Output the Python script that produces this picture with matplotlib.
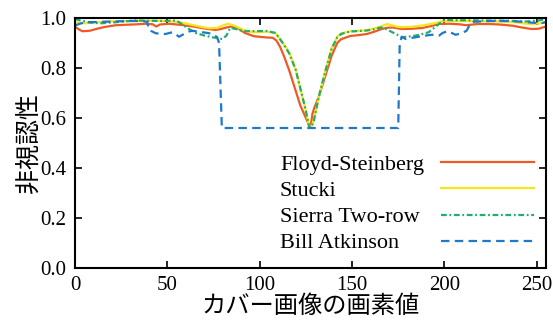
import matplotlib
matplotlib.use("Agg")
import matplotlib.pyplot as plt
from matplotlib.ticker import FormatStrFormatter

plt.rcParams["font.family"] = ["Liberation Serif", "Noto Sans CJK JP"]

# Floyd-Steinberg
fs_x = [0, 2, 4, 8, 12, 16, 22, 28, 34, 38, 42, 44, 46, 51, 58, 65, 70, 73, 76, 79,
        82, 85, 88, 92, 97, 104, 107, 109, 111, 113, 116, 119, 122, 125, 127.5, 128.5,
        129.5, 132, 136, 139, 142, 144, 149, 154, 158, 162, 166, 169, 172, 177, 182,
        188, 193, 197, 203, 208, 212, 218, 224, 230, 237, 242, 247, 251, 255]
fs_y = [0.965, 0.955, 0.947, 0.949, 0.957, 0.964, 0.971, 0.973, 0.975, 0.977, 0.975,
        0.966, 0.974, 0.977, 0.972, 0.965, 0.958, 0.955, 0.952, 0.956, 0.962, 0.966,
        0.960, 0.940, 0.927, 0.922, 0.921, 0.910, 0.885, 0.850, 0.790, 0.720, 0.650,
        0.600, 0.560, 0.615, 0.640, 0.685, 0.780, 0.850, 0.900, 0.915, 0.928, 0.932,
        0.936, 0.945, 0.956, 0.961, 0.962, 0.956, 0.957, 0.960, 0.968, 0.976, 0.977,
        0.975, 0.971, 0.976, 0.976, 0.974, 0.969, 0.962, 0.956, 0.957, 0.966]

# Stucki
st_x = [0, 3, 6, 10, 15, 20, 30, 40, 50, 56, 60, 65, 70, 73, 77, 80, 83, 86, 89, 92,
        97, 104, 108.6, 110, 112, 114, 116, 119.5, 122.2, 124.9, 126.7, 127.5, 128.5,
        129.4, 132, 135.7, 139, 142, 144, 149, 154, 158, 162, 165.5, 169, 171, 174,
        177, 182, 188, 194, 199, 210, 220, 230, 238, 243, 247, 251, 255]
st_y = [0.983, 0.980, 0.979, 0.982, 0.985, 0.987, 0.988, 0.989, 0.988, 0.984, 0.978,
        0.970, 0.962, 0.959, 0.960, 0.970, 0.977, 0.970, 0.960, 0.950, 0.943, 0.945,
        0.940, 0.925, 0.905, 0.885, 0.860, 0.795, 0.712, 0.632, 0.570, 0.560, 0.575,
        0.595, 0.685, 0.792, 0.880, 0.925, 0.938, 0.947, 0.949, 0.951, 0.958, 0.966,
        0.976, 0.972, 0.966, 0.963, 0.965, 0.970, 0.978, 0.987, 0.988, 0.987, 0.986,
        0.983, 0.978, 0.976, 0.978, 0.982]

# Sierra Two-row
sr_x = [0, 3, 7.6, 11, 14.8, 18, 22, 28, 33, 40, 47.5, 54.7, 57, 60, 63, 65.3, 70,
        74.3, 79.8, 82, 84, 86, 90, 93, 104, 108.6, 110, 112, 114, 116, 119.5, 122.2,
        124.9, 126.7, 127.5, 128.5, 129.4, 132, 135.7, 139, 142, 144, 149, 154, 158,
        162, 165.5, 168, 171, 174, 177, 181, 184.6, 188, 191.5, 194, 197, 200, 210,
        220, 234, 240, 244, 248, 251, 255]
sr_y = [0.996, 0.990, 0.983, 0.980, 0.979, 0.981, 0.983, 0.987, 0.990, 0.989, 0.988,
        0.990, 0.980, 0.964, 0.950, 0.940, 0.930, 0.923, 0.916, 0.930, 0.960, 0.958,
        0.950, 0.947, 0.948, 0.940, 0.925, 0.905, 0.882, 0.858, 0.792, 0.712, 0.632,
        0.566, 0.560, 0.574, 0.592, 0.685, 0.792, 0.878, 0.922, 0.936, 0.946, 0.948,
        0.950, 0.955, 0.962, 0.958, 0.946, 0.935, 0.923, 0.926, 0.930, 0.936, 0.943,
        0.958, 0.976, 0.992, 0.991, 0.990, 0.989, 0.987, 0.986, 0.988, 0.990, 0.996]

# Bill Atkinson
ba_x = [0, 3, 6, 12, 20, 30, 36, 39, 40, 41, 43.7, 46, 49, 52.7, 54.5, 56.3, 58, 59,
        61, 63.5, 66, 69, 72, 74.3, 77, 78, 79.5, 175, 175.8, 177, 179, 182, 186, 190,
        193.3, 197, 199, 201.5, 204, 206, 209, 212, 214, 216, 225, 235, 240, 244, 248,
        253, 255]
ba_y = [0.970, 0.978, 0.983, 0.984, 0.986, 0.988, 0.988, 0.985, 0.955, 0.949, 0.939,
        0.937, 0.936, 0.943, 0.935, 0.925, 0.932, 0.936, 0.945, 0.949, 0.946, 0.943,
        0.940, 0.936, 0.923, 0.900, 0.560, 0.560, 0.900, 0.925, 0.916, 0.920, 0.925,
        0.930, 0.933, 0.929, 0.940, 0.947, 0.940, 0.933, 0.938, 0.949, 0.976, 0.985,
        0.988, 0.988, 0.986, 0.984, 0.981, 0.980, 0.984]

labels = ["Floyd-Steinberg", "Stucki", "Sierra Two-row", "Bill Atkinson"]

fig = plt.figure(figsize=(5.53, 3.23), dpi=100)
ax = fig.add_axes([75 / 553, 1 - 268 / 323, 471 / 553, 250 / 323])

lw = 1.6
h1, = ax.plot(fs_x, fs_y, color="#ee5a24", lw=lw)
h2, = ax.plot(st_x, st_y, color="#f7e51b", lw=lw)
h3, = ax.plot(sr_x, sr_y, color="#1fae6e", lw=lw, linestyle=(0, (2.6, 1.2, 0.8, 1.2)))
h4, = ax.plot(ba_x, ba_y, color="#1f78c8", lw=lw, linestyle=(0, (3.8, 2.4)))
handles = [h1, h2, h3, h4]

ax.set_xlim(0, 255)
ax.set_ylim(0, 1.0)
ax.set_xticks([0, 50, 100, 150, 200, 250])
ax.set_yticks([0.0, 0.2, 0.4, 0.6, 0.8, 1.0])
ax.yaxis.set_major_formatter(FormatStrFormatter("%.1f"))
ax.tick_params(direction="in", top=True, right=True, length=5, width=1.2,
               labelsize=15, pad=6)
for sp in ax.spines.values():
    sp.set_linewidth(1.5)

ax.set_xlabel("カバー画像の画素値", fontsize=17.5, labelpad=0)
ax.set_ylabel("非視認性", fontsize=18, labelpad=0)

# legend: labels left-aligned, lines right-aligned -> two overlaid legends
leg_kw = dict(frameon=False, fontsize=16, labelspacing=0.25, borderaxespad=0,
              borderpad=0)
leg_lines = ax.legend(handles, [" "] * len(handles), loc="center right",
                      bbox_to_anchor=(0.975, 0.256), markerfirst=False,
                      handlelength=4.2, handletextpad=0.2, **leg_kw)
ax.add_artist(leg_lines)
leg_text = ax.legend(handles, labels, loc="center left",
                     bbox_to_anchor=(0.435, 0.256), handlelength=0,
                     handletextpad=0, **leg_kw)
for lh in leg_text.get_lines():
    lh.set_visible(False)

fig.savefig("out.png", dpi=100)
